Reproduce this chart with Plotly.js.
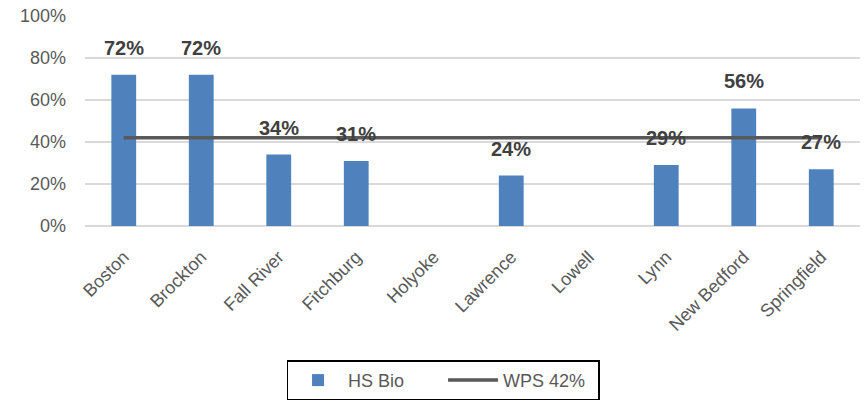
<!DOCTYPE html>
<html>
<head>
<meta charset="utf-8">
<script src="https://cdn.plot.ly/plotly-3.0.1.min.js"></script>
<style>html,body{margin:0;padding:0;background:#fff;}#chart{width:867px;height:401px;}</style>
</head>
<body>
<div id="chart"></div>
<script>
const cities = ["Boston","Brockton","Fall River","Fitchburg","Holyoke","Lawrence","Lowell","Lynn","New Bedford","Springfield"];
const hsBio = [0.72, 0.72, 0.34, 0.31, null, 0.24, null, 0.29, 0.56, 0.27];
const wps = [0.42, 0.42, 0.42, 0.42, 0.42, 0.42, 0.42, 0.42, 0.42, 0.42];
const yTicks = [0, 0.2, 0.4, 0.6, 0.8, 1.0];
const yTickText = ["0%","20%","40%","60%","80%","100%"];

const font = "Liberation Sans, Arial, sans-serif";
const traces = [
  {
    type: "bar", name: "HS Bio", x: cities, y: hsBio,
    marker: {color: "#4f81bd"}
  },
  {
    type: "scatter", mode: "lines", name: "WPS 42%", x: cities, y: wps,
    line: {color: "#595959", width: 3.5}
  }
];
const annotations = cities.map((c, i) => hsBio[i] == null ? null : ({
  x: c, y: hsBio[i], xref: "x", yref: "y",
  text: Math.round(hsBio[i] * 100) + "%",
  showarrow: false, yanchor: "bottom", yshift: 14,
  font: {family: font, size: 20, color: "#404040", weight: "bold"}
})).filter(a => a);

const layout = {
  width: 867, height: 401,
  margin: {l: 85, r: 7, t: 16, b: 175, autoexpand: false},
  paper_bgcolor: "#fff", plot_bgcolor: "#fff",
  font: {family: font, color: "#595959", size: 17},
  bargap: 0.68,
  showlegend: true,
  annotations: annotations,
  legend: {
    orientation: "h", x: 0.462, xanchor: "center", y: -0.64, yanchor: "top",
    bordercolor: "#000", borderwidth: 1.5, font: {size: 18, color: "#595959"},
    traceorder: "normal", itemwidth: 50, entrywidth: 90
  },
  xaxis: {
    type: "category", tickangle: -45, showgrid: false, showline: false,
    ticks: "", tickfont: {size: 18, color: "#595959"}, ticklabelstandoff: 16,
    automargin: false
  },
  yaxis: {
    range: [0, 1.0], tickvals: yTicks, ticktext: yTickText,
    showgrid: true, gridcolor: "#d9d9d9", gridwidth: 1.5,
    zeroline: true, zerolinecolor: "#d9d9d9", zerolinewidth: 1.5,
    showline: false, ticks: "", tickfont: {size: 18, color: "#595959"},
    ticklabelstandoff: 18, automargin: false
  }
};
Plotly.newPlot("chart", traces, layout, {displayModeBar: false, responsive: false});
</script>
</body>
</html>
